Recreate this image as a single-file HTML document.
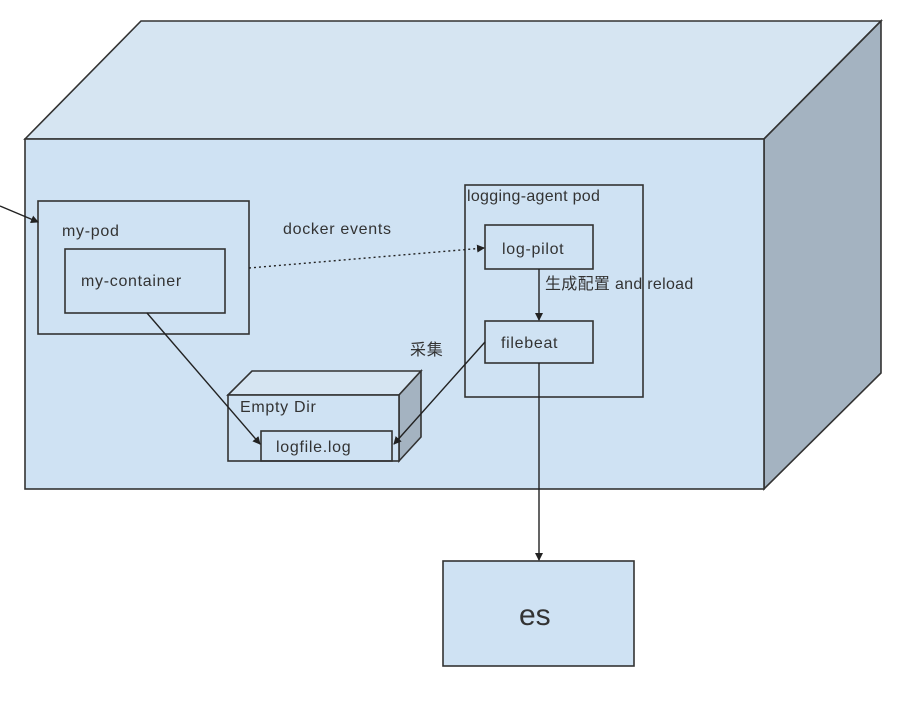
<!DOCTYPE html>
<html><head><meta charset="utf-8"><style>
html,body{margin:0;padding:0;background:#fff;width:912px;height:710px;overflow:hidden}
text{font-family:"Liberation Sans","Noto Sans CJK SC",sans-serif;fill:#333}
</style></head><body>
<svg width="912" height="710" viewBox="0 0 912 710" xmlns="http://www.w3.org/2000/svg">
<defs><marker id="a" markerWidth="8" markerHeight="8" refX="7" refY="4" orient="auto" markerUnits="userSpaceOnUse"><path d="M0,0 L8,4 L0,8 z" fill="#222"/></marker></defs>
<g stroke="#333" stroke-width="1.6">
<polygon points="25,139 141,21 881,21 764,139" fill="#d6e5f2"/>
<polygon points="764,139 881,21 881,373 764,489" fill="#a4b3c1"/>
<rect x="25" y="139" width="739" height="350" fill="#cfe2f3"/>
<rect x="38" y="201" width="211" height="133" fill="none"/>
<rect x="65" y="249" width="160" height="64" fill="none"/>
<rect x="465" y="185" width="178" height="212" fill="none"/>
<rect x="485" y="225" width="108" height="44" fill="none"/>
<rect x="485" y="321" width="108" height="42" fill="none"/>
<polygon points="228,395 252,371 421,371 399,395" fill="#d6e5f2"/>
<polygon points="399,395 421,371 421,437 399,461" fill="#a4b3c1"/>
<rect x="228" y="395" width="171" height="66" fill="#cfe2f3"/>
<rect x="261" y="431" width="131" height="30" fill="none"/>
<rect x="443" y="561" width="191" height="105" fill="#cfe2f3"/>
</g>
<g stroke="#222" stroke-width="1.4" fill="none">
<line x1="0" y1="206" x2="38" y2="222" marker-end="url(#a)"/>
<line x1="249" y1="268" x2="484" y2="248" stroke-dasharray="2,3" marker-end="url(#a)"/>
<line x1="539" y1="269" x2="539" y2="320" marker-end="url(#a)"/>
<line x1="147" y1="313" x2="260" y2="444" marker-end="url(#a)"/>
<line x1="485" y1="342" x2="394" y2="444" marker-end="url(#a)"/>
<line x1="539" y1="363" x2="539" y2="560" marker-end="url(#a)"/>
</g>
<g font-size="16" letter-spacing="0.7">
<text x="62" y="236">my-pod</text>
<text x="81" y="286">my-container</text>
<text x="283" y="234">docker events</text>
<text x="467" y="201" letter-spacing="0.3">logging-agent pod</text>
<text x="502" y="254">log-pilot</text>
<text x="545" y="289" letter-spacing="0.3">生成配置 and reload</text>
<text x="501" y="348">filebeat</text>
<text x="410" y="355">采集</text>
<text x="240" y="412">Empty Dir</text>
<text x="276" y="452">logfile.log</text>
<text x="519" y="625" font-size="30" letter-spacing="0">es</text>
</g>
</svg>
</body></html>
